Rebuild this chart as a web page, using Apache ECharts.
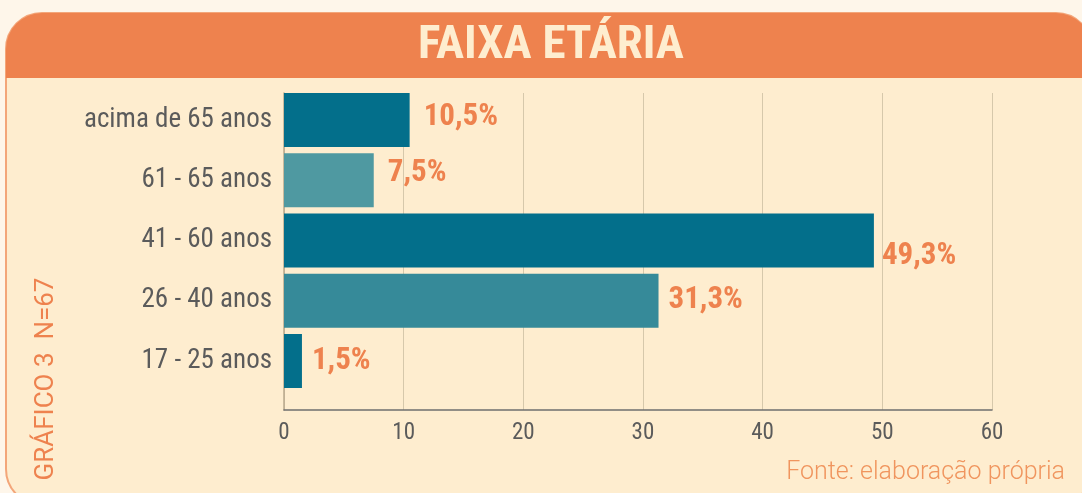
<!DOCTYPE html>
<html lang="pt">
<head>
<meta charset="UTF-8">
<title>Faixa etária</title>
<script src="https://cdn.jsdelivr.net/npm/echarts@6/dist/echarts.min.js"></script>
<style>
  html, body { margin: 0; padding: 0; background: #fef6ea; }
  #chart { width: 1082px; height: 493px; }
</style>
</head>
<body>
<div id="chart"></div>
<script>
// faixas etárias, de cima para baixo
var faixas = ['acima de 65 anos', '61 - 65 anos', '41 - 60 anos', '26 - 40 anos', '17 - 25 anos'];
var percentuais = [10.5, 7.5, 49.3, 31.3, 1.5];

var corEscura = '#036f8b';
var corClara = '#4f99a1';
var corMedia = '#368a99';
var coresBarras = [corEscura, corClara, corEscura, corMedia, corEscura];

var fonteEstreita = "'Liberation Sans Narrow', 'Roboto Condensed', Roboto, sans-serif";

// o eixo original termina um pouco antes do 60 (escala de 11,97 px por unidade)
var fimEixo = 59.17;

var myChart = echarts.init(document.getElementById('chart'));

var dadosBarras = percentuais.map(function (v, i) {
  var item = { value: v, itemStyle: { color: coresBarras[i] } };
  if (i === 2) {
    item.label = { offset: [-2, 16] };
  } else if (i === 1) {
    item.label = { offset: [4, -7] };
  } else if (i === 0) {
    item.label = { offset: [4, -3] };
  }
  return item;
});

var option = {
  backgroundColor: '#fef6ea',
  animation: false,
  graphic: [
    {
      type: 'rect', z: -10, silent: true,
      shape: { x: 6, y: 13, width: 1086, height: 492, r: [36, 36, 36, 36] },
      style: { fill: '#feedcf', stroke: '#f3a67a', lineWidth: 2 }
    },
    {
      type: 'rect', z: -9, silent: true,
      shape: { x: 6, y: 13, width: 1086, height: 65, r: [36, 36, 0, 0] },
      style: { fill: '#ee824e' }
    },
    {
      type: 'text', z: 5, silent: true,
      x: 551, y: 46,
      style: {
        text: 'FAIXA ETÁRIA',
        fill: '#feedcf',
        font: "bold 47px " + fonteEstreita,
        textAlign: 'center',
        textVerticalAlign: 'middle'
      }
    },
    {
      type: 'text', z: 5, silent: true,
      x: 46, y: 379, rotation: Math.PI / 2,
      style: {
        text: 'GRÁFICO 3  N=67',
        fill: '#ee824e',
        font: "26px Roboto, sans-serif",
        textAlign: 'center',
        textVerticalAlign: 'middle'
      }
    },
    {
      type: 'text', z: 5, silent: true,
      x: 1065, y: 473,
      style: {
        text: 'Fonte: elaboração própria',
        fill: '#f0955e',
        font: "300 25px Roboto, sans-serif",
        textAlign: 'right',
        textVerticalAlign: 'middle'
      }
    }
  ],
  grid: [
    { left: 284, top: 93, width: 708, height: 317 },
    { left: 284, top: 90, width: 708, height: 301 }
  ],
  xAxis: [
    {
      gridIndex: 0,
      type: 'value',
      min: 0,
      max: fimEixo,
      interval: 10,
      axisLine: { show: true, lineStyle: { color: '#6f6f6f', width: 1.5 } },
      axisTick: { show: false },
      splitLine: { show: true, lineStyle: { color: '#d6c8ab', width: 1 } },
      axisLabel: {
        color: '#5b5b5b',
        fontSize: 23,
        fontFamily: fonteEstreita,
        margin: 12,
        showMaxLabel: true,
        formatter: function (v) { return String(Math.round(v / 10) * 10); }
      }
    },
    {
      gridIndex: 1,
      type: 'value',
      min: 0,
      max: fimEixo,
      show: false
    }
  ],
  yAxis: [
    {
      gridIndex: 0,
      type: 'category',
      data: [''],
      axisLine: { show: true, lineStyle: { color: '#b9a98c', width: 1.5 } },
      axisTick: { show: false },
      axisLabel: { show: false }
    },
    {
      gridIndex: 1,
      type: 'category',
      inverse: true,
      data: faixas,
      axisLine: { show: false },
      axisTick: { show: false },
      axisLabel: {
        color: '#5b5b5b',
        fontSize: 27,
        fontFamily: fonteEstreita,
        margin: 12
      }
    }
  ],
  series: [
    {
      type: 'bar',
      xAxisIndex: 1,
      yAxisIndex: 1,
      barWidth: 54,
      data: dadosBarras,
      label: {
        show: true,
        position: 'right',
        distance: 10,
        color: '#ee824e',
        fontSize: 31,
        fontWeight: 'bold',
        fontFamily: fonteEstreita,
        formatter: function (p) { return p.value.toFixed(1).replace('.', ',') + '%'; }
      }
    }
  ]
};

myChart.setOption(option);
</script>
</body>
</html>
